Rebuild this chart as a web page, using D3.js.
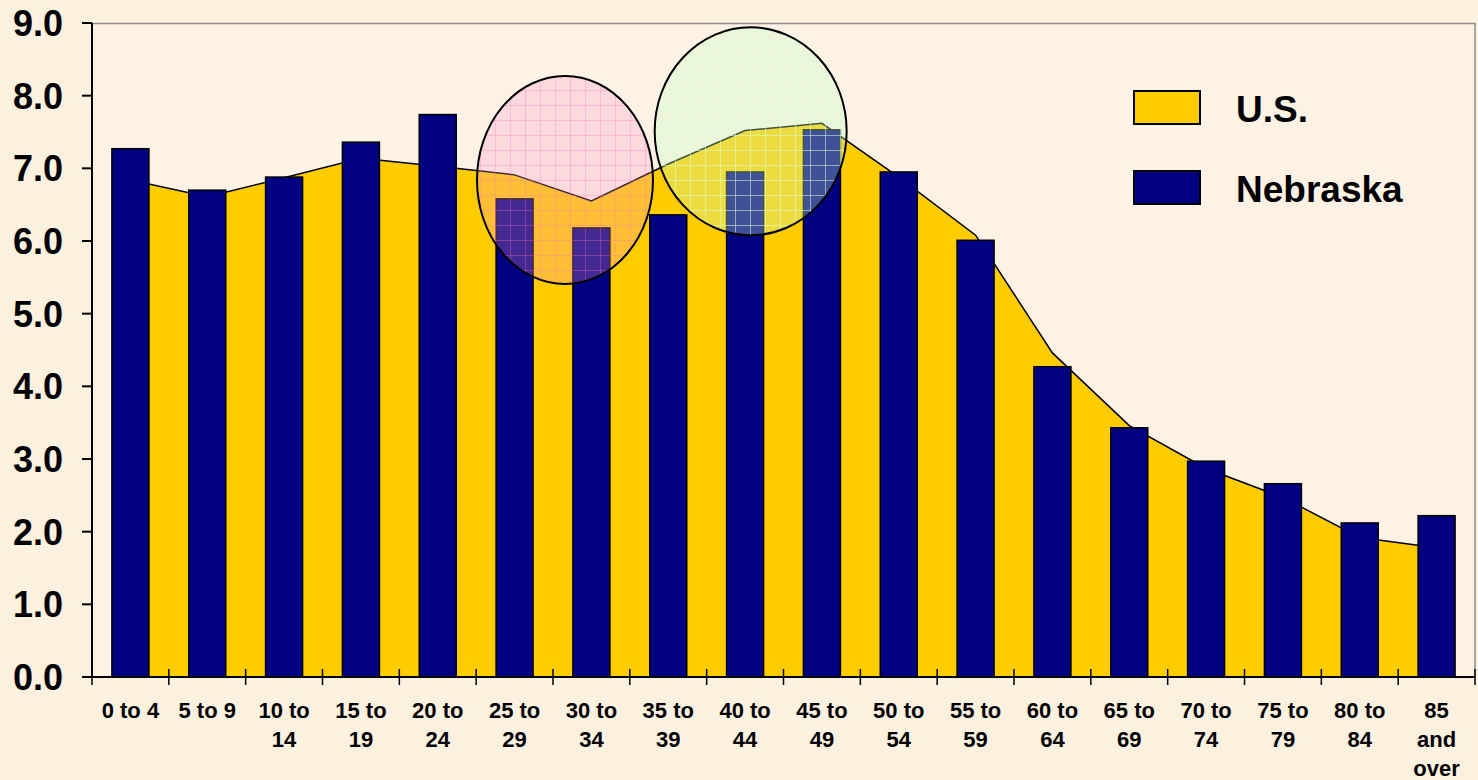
<!DOCTYPE html>
<html>
<head>
<meta charset="utf-8">
<script src="https://cdn.jsdelivr.net/npm/d3@7"></script>
<style>
  html, body { margin: 0; padding: 0; background: #fcf0df; }
  svg { display: block; }
  text { font-family: "Liberation Sans", Arial, sans-serif; font-weight: bold; fill: #000; }
</style>
</head>
<body>
<div id="chart"></div>
<script>
// age groups, one line each; labels wrap like the original
var ageGroups = ["0 to 4", "5 to 9", "10 to 14", "15 to 19", "20 to 24", "25 to 29",
    "30 to 34", "35 to 39", "40 to 44", "45 to 49", "50 to 54", "55 to 59",
    "60 to 64", "65 to 69", "70 to 74", "75 to 79", "80 to 84", "85 and over"];
var ageLabels = [["0 to 4"], ["5 to 9"], ["10 to", "14"], ["15 to", "19"], ["20 to", "24"],
    ["25 to", "29"], ["30 to", "34"], ["35 to", "39"], ["40 to", "44"], ["45 to", "49"],
    ["50 to", "54"], ["55 to", "59"], ["60 to", "64"], ["65 to", "69"], ["70 to", "74"],
    ["75 to", "79"], ["80 to", "84"], ["85", "and", "over"]];
// percent of population
var usValues = [6.84, 6.61, 6.87, 7.14, 7.03, 6.91, 6.55, 7.06, 7.52, 7.62,
    6.88, 6.08, 4.46, 3.46, 2.87, 2.47, 1.92, 1.78];
var nebraskaValues = [7.27, 6.70, 6.88, 7.36, 7.74, 6.58, 6.18, 6.36, 6.95, 7.53,
    6.95, 6.01, 4.27, 3.43, 2.97, 2.66, 2.12, 2.22];
var yTicks = [0, 1, 2, 3, 4, 5, 6, 7, 8, 9];
var seriesNames = ["U.S.", "Nebraska"];

var W = 1478, H = 780;
var plotL = 92, plotR = 1475, plotT = 23, plotB = 677;

var svg = d3.select("#chart").append("svg")
        .attr("width", W)
        .attr("height", H);

var defs = svg.append("defs");
function gridPattern(id, color) {
    var p = defs.append("pattern")
            .attr("id", id)
            .attr("width", 15)
            .attr("height", 15)
            .attr("patternUnits", "userSpaceOnUse");
    p.append("path")
            .attr("d", "M0 0.5H15M0.5 0V15")
            .attr("stroke", color)
            .attr("stroke-width", 1)
            .attr("fill", "none");
}
gridPattern("gridPink", "rgba(255,120,190,0.3)");
gridPattern("gridGreen", "rgba(215,255,215,0.55)");

// plot area
svg.append("rect")
        .attr("x", plotL).attr("y", plotT)
        .attr("width", plotR - plotL).attr("height", plotB - plotT)
        .attr("fill", "#fdf2e4");

var x = d3.scaleBand().domain(ageGroups).range([plotL, plotR]);
var y = d3.scaleLinear().domain([0, 9]).range([plotB, plotT]);
var bw = x.bandwidth();
var barW = 37;

// U.S. area, from centre of first band to centre of last
var usData = ageGroups.map(function (g, i) {
    return {g: g, v: usValues[i]};
});
var area = d3.area()
        .x(function (d) { return x(d.g) + bw / 2; })
        .y0(y(0))
        .y1(function (d) { return y(d.v); });
svg.append("path")
        .datum(usData)
        .attr("d", area)
        .attr("fill", "#ffcc00");
svg.append("path")
        .datum(usData)
        .attr("d", d3.line()
                .x(function (d) { return x(d.g) + bw / 2; })
                .y(function (d) { return y(d.v); }))
        .attr("fill", "none")
        .attr("stroke", "#000")
        .attr("stroke-width", 1.5);

// Nebraska bars
svg.selectAll("rect.bar")
        .data(ageGroups)
        .enter()
        .append("rect")
        .attr("class", "bar")
        .attr("x", function (g) { return x(g) + (bw - barW) / 2; })
        .attr("y", function (g, i) { return y(nebraskaValues[i]); })
        .attr("width", barW)
        .attr("height", function (g, i) { return y(0) - y(nebraskaValues[i]); })
        .attr("fill", "#000080")
        .attr("stroke", "#000")
        .attr("stroke-width", 1.5);

// frame top/right
svg.append("path")
        .attr("d", "M" + plotL + "," + (plotT + 0.5) + "H" + plotR + "V" + plotB)
        .attr("fill", "none")
        .attr("stroke", "#8c8c8c")
        .attr("stroke-width", 1.5);

// y axis
var yAxis = svg.append("g").attr("transform", "translate(" + plotL + ",0)");
yAxis.append("line")
        .attr("y1", plotT).attr("y2", plotB)
        .attr("stroke", "#000").attr("stroke-width", 2);
yAxis.selectAll("line.tick")
        .data(yTicks)
        .enter()
        .append("line")
        .attr("class", "tick")
        .attr("x1", -10).attr("x2", 0)
        .attr("y1", function (d) { return y(d); })
        .attr("y2", function (d) { return y(d); })
        .attr("stroke", "#000").attr("stroke-width", 2);
yAxis.selectAll("text")
        .data(yTicks)
        .enter()
        .append("text")
        .attr("x", -29)
        .attr("y", function (d) { return y(d) + 13; })
        .attr("text-anchor", "end")
        .style("font-size", "36px")
        .text(function (d) { return d.toFixed(1); });

// x axis
var xAxis = svg.append("g");
xAxis.append("line")
        .attr("x1", plotL).attr("x2", plotR)
        .attr("y1", plotB).attr("y2", plotB)
        .attr("stroke", "#000").attr("stroke-width", 2);
var bounds = ageGroups.map(function (g) { return x(g); }).concat([plotR]);
xAxis.selectAll("line.tick")
        .data(bounds)
        .enter()
        .append("line")
        .attr("class", "tick")
        .attr("x1", function (d) { return d; })
        .attr("x2", function (d) { return d; })
        .attr("y1", function (d, i) { return i === 0 ? plotB : plotB - 8; })
        .attr("y2", plotB + 8)
        .attr("stroke", "#000").attr("stroke-width", 1.5);
var lbl = xAxis.selectAll("text")
        .data(ageGroups)
        .enter()
        .append("text")
        .attr("text-anchor", "middle")
        .style("font-size", "22px");
lbl.selectAll("tspan")
        .data(function (g, i) {
            return ageLabels[i].map(function (s) { return {s: s, g: g}; });
        })
        .enter()
        .append("tspan")
        .attr("x", function (d) { return x(d.g) + bw / 2; })
        .attr("y", function (d, j) { return 718 + j * 29; })
        .text(function (d) { return d.s; });

// legend
var legend = svg.append("g").attr("transform", "translate(1134,91)");
var legColors = ["#ffcc00", "#000080"];
legend.selectAll("rect")
        .data(seriesNames)
        .enter()
        .append("rect")
        .attr("x", 0)
        .attr("y", function (d, i) { return i * 80; })
        .attr("width", 66)
        .attr("height", 33)
        .attr("fill", function (d, i) { return legColors[i]; })
        .attr("stroke", "#000")
        .attr("stroke-width", 2);
legend.selectAll("text")
        .data(seriesNames)
        .enter()
        .append("text")
        .attr("x", 102)
        .attr("y", function (d, i) { return 31 + i * 80; })
        .style("font-size", "37px")
        .text(function (d) { return d; });

// highlight circles
var circles = [
    {g: "30 to 34", dx: 12, v: 6.84, rx: 88, ry: 104, fill: "rgba(252,150,200,0.27)", grid: "url(#gridPink)"},
    {g: "40 to 44", dx: 44, v: 7.51, rx: 96, ry: 104, fill: "rgba(200,255,200,0.32)", grid: "url(#gridGreen)"}
];
var cg = svg.selectAll("g.hl")
        .data(circles)
        .enter()
        .append("g")
        .attr("class", "hl");
cg.append("ellipse")
        .attr("cx", function (d) { return x(d.g) + d.dx; })
        .attr("cy", function (d) { return y(d.v); })
        .attr("rx", function (d) { return d.rx; })
        .attr("ry", function (d) { return d.ry; })
        .attr("fill", function (d) { return d.fill; });
cg.append("ellipse")
        .attr("cx", function (d) { return x(d.g) + d.dx; })
        .attr("cy", function (d) { return y(d.v); })
        .attr("rx", function (d) { return d.rx; })
        .attr("ry", function (d) { return d.ry; })
        .attr("fill", function (d) { return d.grid; })
        .attr("stroke", "#000")
        .attr("stroke-width", 2);
</script>
</body>
</html>
